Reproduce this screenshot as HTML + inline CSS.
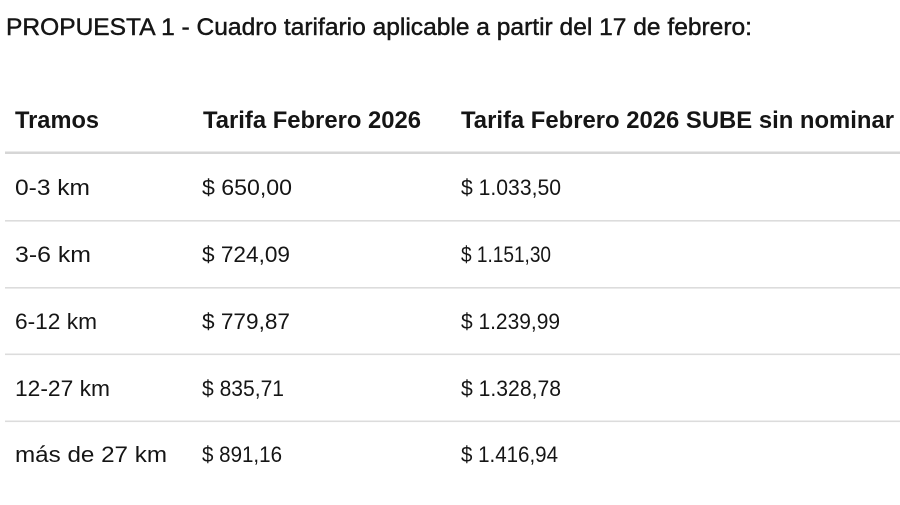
<!DOCTYPE html>
<html>
<head>
<meta charset="utf-8">
<style>
html,body{margin:0;padding:0;background:#fff;}
body{width:900px;height:505px;overflow:hidden;}
svg{display:block;}
text{font-family:"Liberation Sans","DejaVu Sans",sans-serif;fill:#151515;}
.b{font-weight:bold;}
</style>
</head>
<body>
<svg width="900" height="505" viewBox="0 0 900 505" xmlns="http://www.w3.org/2000/svg">
<rect width="900" height="505" fill="#fff"/>
<text x="6" y="35" font-size="24.5" stroke="#151515" stroke-width="0.45" textLength="746" lengthAdjust="spacingAndGlyphs">PROPUESTA 1 - Cuadro tarifario aplicable a partir del 17 de febrero:</text>

<text class="b" x="15" y="128" font-size="24" textLength="84" lengthAdjust="spacingAndGlyphs">Tramos</text>
<text class="b" x="203" y="128" font-size="24" textLength="218" lengthAdjust="spacingAndGlyphs">Tarifa Febrero 2026</text>
<text class="b" x="461" y="128" font-size="24" textLength="433" lengthAdjust="spacingAndGlyphs">Tarifa Febrero 2026 SUBE sin nominar</text>

<rect x="5" y="151.5" width="895" height="2.5" fill="#d6d6d6"/>
<rect x="5" y="220" width="895" height="1.6" fill="#dcdcdc"/>
<rect x="5" y="287" width="895" height="1.6" fill="#dcdcdc"/>
<rect x="5" y="353.5" width="895" height="1.6" fill="#dcdcdc"/>
<rect x="5" y="420.5" width="895" height="1.6" fill="#dcdcdc"/>

<g font-size="22">
<text x="15" y="195" textLength="75" lengthAdjust="spacingAndGlyphs">0-3 km</text>
<text x="202" y="195" textLength="90" lengthAdjust="spacingAndGlyphs">$ 650,00</text>
<text x="461" y="195" textLength="100" lengthAdjust="spacingAndGlyphs">$ 1.033,50</text>

<text x="15" y="262" textLength="76" lengthAdjust="spacingAndGlyphs">3-6 km</text>
<text x="202" y="262" textLength="88" lengthAdjust="spacingAndGlyphs">$ 724,09</text>
<text x="461" y="262" textLength="90" lengthAdjust="spacingAndGlyphs">$ 1.151,30</text>

<text x="15" y="329" textLength="82" lengthAdjust="spacingAndGlyphs">6-12 km</text>
<text x="202" y="329" textLength="88" lengthAdjust="spacingAndGlyphs">$ 779,87</text>
<text x="461" y="329" textLength="99" lengthAdjust="spacingAndGlyphs">$ 1.239,99</text>

<text x="15" y="396" textLength="95" lengthAdjust="spacingAndGlyphs">12-27 km</text>
<text x="202" y="396" textLength="82" lengthAdjust="spacingAndGlyphs">$ 835,71</text>
<text x="461" y="396" textLength="100" lengthAdjust="spacingAndGlyphs">$ 1.328,78</text>

<text x="15" y="462" textLength="152" lengthAdjust="spacingAndGlyphs">más de 27 km</text>
<text x="202" y="462" textLength="80" lengthAdjust="spacingAndGlyphs">$ 891,16</text>
<text x="461" y="462" textLength="97" lengthAdjust="spacingAndGlyphs">$ 1.416,94</text>
</g>
</svg>
</body>
</html>
